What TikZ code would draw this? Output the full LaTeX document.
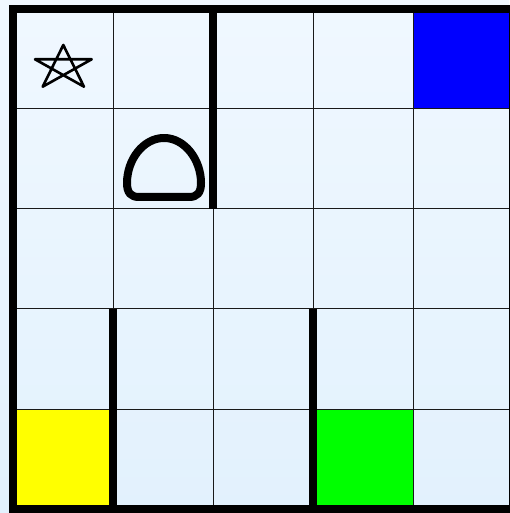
\documentclass[tikz,border=0pt]{standalone}
\begin{document}
\begin{tikzpicture}[x=0.01cm,y=-0.01cm,
  gridline/.style={draw=black!90,line width=1.0*0.01cm},
  wall/.style={draw=black,line width=8*0.01cm},
  cellfill/.style={draw=black!85,line width=1.0*0.01cm},
  symbol/.style={draw=black,line join=round,line cap=round}]
\useasboundingbox (0,0) rectangle (509,513);
\shade[top color={rgb,255:red,240;green,248;blue,255},bottom color={rgb,255:red,226;green,241;blue,253}] (0,0) rectangle (509,513);
% coloured cells
\path[cellfill,fill={rgb,255:red,0;green,0;blue,255}] (413,9) rectangle (513,109);
\path[cellfill,fill={rgb,255:red,255;green,255;blue,0}] (13,409) rectangle (113,509);
\path[cellfill,fill={rgb,255:red,0;green,255;blue,0}] (313,409) rectangle (413,509);
% grid
\foreach \i in {113,213,313,413} {
  \draw[gridline] (\i,9) -- (\i,509);
}
\foreach \j in {109,209,309,409} {
  \draw[gridline] (13,\j) -- (513,\j);
}
% walls
\draw[wall] (213,9) -- (213,209);
\draw[wall] (113,309) -- (113,509);
\draw[wall] (313,309) -- (313,509);
% border
\draw[wall] (13,9) rectangle (513,509);
% star
\draw[symbol,line width=2.6*0.01cm] (63.3,45) -- (42.7,86.7) -- (91.7,59.3) -- (35,59.3) -- (84,86.7) -- cycle;
% dome
\draw[symbol,line width=8*0.01cm] (164,138) .. controls (185,138) and (201,160) .. (201,183)
  .. controls (201,193) and (197,197) .. (189,197) -- (139,197)
  .. controls (131,197) and (127,193) .. (127,183)
  .. controls (127,160) and (143,138) .. cycle;
\end{tikzpicture}
\end{document}
